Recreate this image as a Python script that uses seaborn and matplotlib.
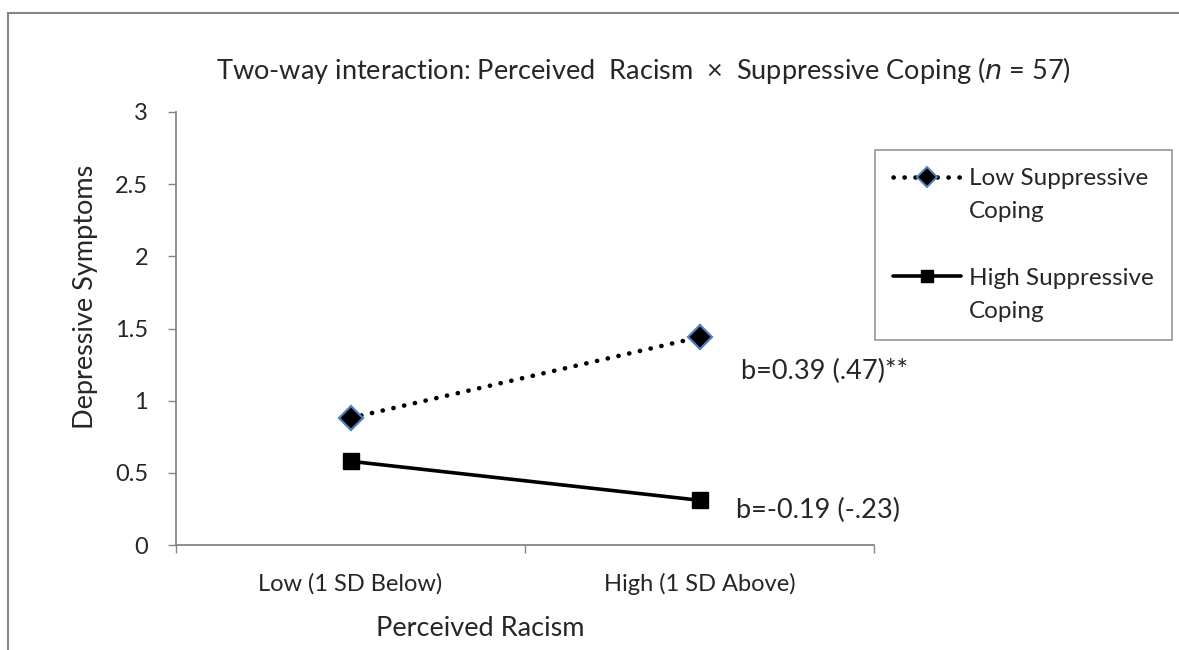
import matplotlib
matplotlib.use("Agg")
import matplotlib.pyplot as plt
from matplotlib.lines import Line2D
from matplotlib.patches import Rectangle
import seaborn as sns
import pandas as pd

# Simple-slopes values
racism_levels = ["Low (1 SD Below)", "High (1 SD Above)"]
groups = ["Low Suppressive Coping", "High Suppressive Coping"]
low_coping = [0.88, 1.44]
high_coping = [0.58, 0.31]
slope_labels = ["b=0.39 (.47)**", "b=-0.19 (-.23)"]
y_ticks = [0, 0.5, 1, 1.5, 2, 2.5, 3]
y_tick_labels = ["0", "0.5", "1", "1.5", "2", "2.5", "3"]

df = pd.DataFrame({
    "Perceived Racism": racism_levels * 2,
    "Depressive Symptoms": low_coping + high_coping,
    "Group": [groups[0]] * 2 + [groups[1]] * 2,
})

sns.set_theme(style="white")
plt.rcParams["font.family"] = ["Lato", "DejaVu Sans"]

GRAY = "#868686"
BLUE = "#4F81BD"
TICK_FS = 17
LABEL_FS = 19.5

fig = plt.figure(figsize=(11.79, 6.5), dpi=100)
ax = fig.add_axes([176 / 1179, 105 / 650, 698 / 1179, 433 / 650])

dotted = (0, (0.05, 2.35))
styles = {
    groups[0]: dict(ls=dotted, lw=3.3, marker="D", ms=12, mfc="black", mec=BLUE, mew=1.6),
    groups[1]: dict(ls="-", lw=2.6, marker="s", ms=11, mfc="black", mec="black", mew=1),
}

for g in groups:
    sub = df[df["Group"] == g]
    st = styles[g]
    sns.lineplot(data=sub, x="Perceived Racism", y="Depressive Symptoms", ax=ax,
                 color="black", lw=st["lw"], linestyle=st["ls"], marker=st["marker"],
                 markersize=st["ms"], markerfacecolor=st["mfc"],
                 markeredgecolor=st["mec"], markeredgewidth=st["mew"],
                 dash_capstyle="round", legend=False, sort=False)

ax.set_xlim(-0.5, 1.5)
ax.set_ylim(0, 3)
ax.set_yticks(y_ticks)
ax.set_yticklabels(y_tick_labels, fontsize=TICK_FS)
ax.set_xticks([0, 1])
ax.set_xticklabels(racism_levels, fontsize=TICK_FS)
ax.set_xticks([-0.5, 0.5, 1.5], minor=True)
ax.tick_params(axis="x", which="major", length=0, pad=20)
ax.tick_params(axis="x", which="minor", length=6, width=1, color=GRAY, direction="out", bottom=True)
ax.tick_params(axis="y", length=6, width=1, color=GRAY, direction="out", left=True, pad=14)

for side in ["top", "right"]:
    ax.spines[side].set_visible(False)
for side in ["left", "bottom"]:
    ax.spines[side].set_color(GRAY)
    ax.spines[side].set_linewidth(1.3)

ax.set_xlabel("Perceived Racism", fontsize=LABEL_FS)
ax.set_ylabel("Depressive Symptoms", fontsize=LABEL_FS)
ax.xaxis.set_label_coords((480 - 176) / 698, (545 - 616) / 433)
ax.yaxis.set_label_coords((98 - 176) / 698, (545 - 297) / 433)

# Slope annotations
ax.text(1.12, low_coping[1] - 0.24, slope_labels[0], fontsize=LABEL_FS, va="center", ha="left")
ax.text(1.105, high_coping[1] - 0.07, slope_labels[1], fontsize=LABEL_FS, va="center", ha="left")

fig.text((213 + 1074) / 2 / 1179, 1 - 70 / 650,
         "Two-way interaction: Perceived  Racism  \u00d7  Suppressive Coping ($\\it{n}$ = 57)",
         fontsize=LABEL_FS, ha="center", va="center")

# Legend: each series name wraps onto a second row, with a spacer row between series
blank = Line2D([], [], lw=0, marker=None)
handles = [
    Line2D([], [], color="black", lw=3.3, linestyle=dotted, dash_capstyle="round",
           marker="D", ms=10, mfc="black", mec=BLUE, mew=1.4),
    blank, blank,
    Line2D([], [], color="black", lw=2.6, marker="s", ms=9, mfc="black", mec="black"),
    blank,
]
labels = ["Low Suppressive", "Coping", " ", "High Suppressive", "Coping"]
leg = fig.legend(handles, labels, loc="upper left",
                 bbox_to_anchor=(875 / 1179, 1 - 150 / 650),
                 fontsize=17.5, frameon=True, fancybox=False, handlelength=2.8,
                 handletextpad=0.3, labelspacing=0.5, borderpad=0.75,
                 borderaxespad=0)
leg.get_frame().set_edgecolor(GRAY)
leg.get_frame().set_linewidth(1.3)

# Outer chart frame
fig.patches.append(Rectangle((8 / 1179, -0.05), 1.2, 1 - 13 / 650 + 0.05,
                             transform=fig.transFigure, fill=False,
                             edgecolor=GRAY, lw=1.5))

fig.savefig("out.png", dpi=100, facecolor="white")
